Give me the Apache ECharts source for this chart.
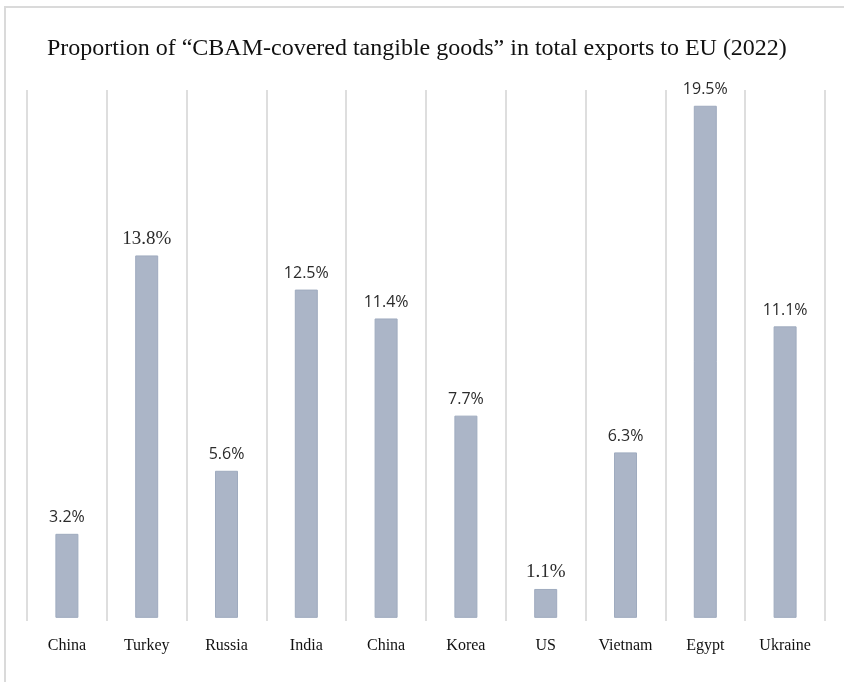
<!DOCTYPE html>
<html>
<head>
<meta charset="utf-8">
<script src="https://cdn.jsdelivr.net/npm/echarts@6/dist/echarts.min.js"></script>
<style>
  html, body { margin: 0; padding: 0; background: #ffffff; }
  #chart { width: 844px; height: 682px; }
</style>
</head>
<body>
<div id="chart"></div>
<script>
// Share of CBAM-covered goods in each country's exports to the EU, 2022 (%)
const countries = ['China', 'Turkey', 'Russia', 'India', 'China', 'Korea', 'US', 'Vietnam', 'Egypt', 'Ukraine'];
const shares = [3.2, 13.8, 5.6, 12.5, 11.4, 7.7, 1.1, 6.3, 19.5, 11.1];
// labels typeset in serif in the original layout
const serifLabelIdx = [1, 6];

const chart = echarts.init(document.getElementById('chart'), null, { renderer: 'canvas' });

const barData = shares.map((v, i) => {
  const item = { value: v };
  if (serifLabelIdx.includes(i)) {
    item.label = { fontFamily: 'Liberation Serif', fontSize: 19, distance: 7 };
  }
  return item;
});

chart.setOption({
  backgroundColor: '#ffffff',
  animation: false,
  title: {
    text: 'Proportion of \u201CCBAM-covered tangible goods\u201D in total exports to EU (2022)',
    left: 42,
    top: 32,
    textStyle: {
      fontFamily: 'Liberation Serif',
      fontSize: 24,
      fontWeight: 'normal',
      color: '#111111'
    }
  },
  graphic: [{
    type: 'polyline',
    silent: true,
    shape: { points: [[5, 682], [5, 7], [844, 7]] },
    style: { stroke: '#dadada', lineWidth: 2, fill: null }
  }],
  grid: { left: 27, right: 19, top: 90, bottom: 61 },
  xAxis: {
    type: 'category',
    data: countries,
    boundaryGap: true,
    axisLine: { show: false },
    axisTick: { show: false },
    splitLine: { show: true, lineStyle: { color: '#dedede', width: 2 } },
    axisLabel: {
      margin: 17,
      fontFamily: 'Liberation Serif',
      fontSize: 16,
      color: '#111111',
      interval: 0
    }
  },
  yAxis: {
    type: 'value',
    show: false,
    min: -0.12,
    max: 20.1,
    splitLine: { show: false }
  },
  series: [{
    type: 'bar',
    data: barData,
    barWidth: 23,
    itemStyle: { color: '#abb5c7', borderColor: '#9fabbf', borderWidth: 1 },
    label: {
      show: true,
      position: 'top',
      distance: 8,
      formatter: p => p.value.toFixed(1) + '%',
      fontFamily: 'Open Sans',
      fontSize: 16,
      color: '#2b2b2b'
    }
  }]
});
</script>
</body>
</html>
